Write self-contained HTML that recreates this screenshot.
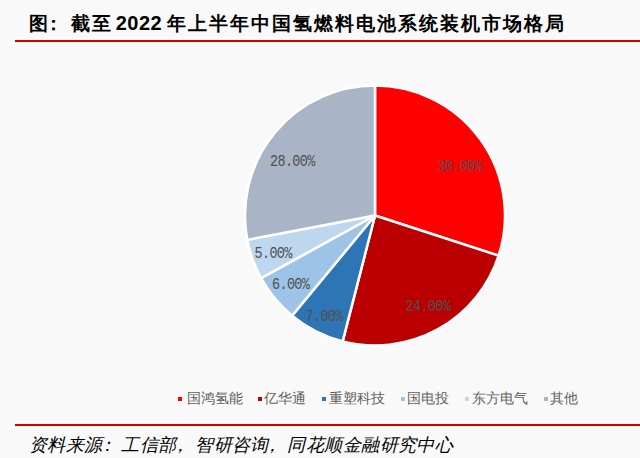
<!DOCTYPE html>
<html><head><meta charset="utf-8">
<style>
html,body{margin:0;padding:0;}
body{width:640px;height:458px;background:#f9f9f9;position:relative;overflow:hidden;font-family:"Liberation Sans",sans-serif;}
.title{position:absolute;left:29px;top:9px;font-family:"Liberation Serif",serif;font-size:19px;font-weight:bold;letter-spacing:2px;color:#000;white-space:nowrap;line-height:28px;}
.rule{position:absolute;left:15px;right:0;height:2px;background:#d40000;}
.legend{position:absolute;top:0;left:0;font-size:14px;color:#606060;white-space:nowrap;line-height:18px;}
.legend span{position:absolute;top:389px;}
.legend i{position:absolute;width:4px;height:4px;top:397px;}
.src{position:absolute;font-family:"Liberation Serif",serif;left:29px;top:433px;font-size:18px;font-style:italic;letter-spacing:0.45px;color:#000;white-space:nowrap;line-height:24px;}
svg{position:absolute;left:0;top:0;}
</style></head>
<body>
<div class="title">图<span style="position:relative;left:-6px">：</span>截至<span style="letter-spacing:-2px"> </span><span style="letter-spacing:0.5px;font-size:20px;font-family:'Liberation Sans',sans-serif">2022</span><span style="letter-spacing:0px"> </span>年上半年中国氢燃料电池系统装机市场格局</div>
<div class="rule" style="top:40px"></div>
<svg width="640" height="458" viewBox="0 0 640 458">
<path d="M375,215.5 L375.00,85.50 A130,130 0 0 1 498.64,255.67 Z" fill="#ff0000" stroke="#fff" stroke-width="2.5" stroke-linejoin="round"/>
<path d="M375,215.5 L498.64,255.67 A130,130 0 0 1 342.67,341.42 Z" fill="#ba0000" stroke="#fff" stroke-width="2.5" stroke-linejoin="round"/>
<path d="M375,215.5 L342.67,341.42 A130,130 0 0 1 292.13,315.67 Z" fill="#2e75b6" stroke="#fff" stroke-width="2.5" stroke-linejoin="round"/>
<path d="M375,215.5 L292.13,315.67 A130,130 0 0 1 261.08,278.13 Z" fill="#9dc3e6" stroke="#fff" stroke-width="2.5" stroke-linejoin="round"/>
<path d="M375,215.5 L261.08,278.13 A130,130 0 0 1 247.30,239.86 Z" fill="#bdd7ee" stroke="#fff" stroke-width="2.5" stroke-linejoin="round"/>
<path d="M375,215.5 L247.30,239.86 A130,130 0 0 1 375.00,85.50 Z" fill="#a9b5c6" stroke="#fff" stroke-width="2.5" stroke-linejoin="round"/>
<g font-family="Liberation Mono" font-size="13.5" fill="#505050">
<text transform="translate(270,166) scale(1,1.17)" x="0.00 7.45 14.90 22.35 29.80 37.25" y="0">28.00%</text>
<text transform="translate(437.5,170.5) scale(1,1.17)" x="0.00 7.45 14.90 22.35 29.80 37.25" y="0">30.00%</text>
<text transform="translate(405.5,310.5) scale(1,1.17)" x="0.00 7.45 14.90 22.35 29.80 37.25" y="0">24.00%</text>
<text transform="translate(254.5,257.5) scale(1,1.17)" x="0.00 7.45 14.90 22.35 29.80" y="0">5.00%</text>
<text transform="translate(272,288.5) scale(1,1.17)" x="0.00 7.45 14.90 22.35 29.80" y="0">6.00%</text>
<text transform="translate(305.5,320.5) scale(1,1.17)" x="0.00 7.45 14.90 22.35 29.80" y="0">7.00%</text>
</g>
</svg>
<div class="legend">
<i style="left:178px;background:#ff0000"></i><span style="left:187px">国鸿氢能</span>
<i style="left:258px;background:#c00000"></i><span style="left:264px">亿华通</span>
<i style="left:322px;background:#2e75b6"></i><span style="left:329px">重塑科技</span>
<i style="left:401px;background:#9dc3e6"></i><span style="left:407px">国电投</span>
<i style="left:465px;background:#bdd7ee"></i><span style="left:472px">东方电气</span>
<i style="left:544px;background:#a9b5c6"></i><span style="left:550px">其他</span>
</div>
<div class="rule" style="top:424px"></div>
<div class="src">资料来源<span style="position:relative;left:-5px">：</span>工信部<span style="position:relative;left:-6px">，</span>智研咨询<span style="position:relative;left:-6px">，</span>同花顺金融研究中心</div>
</body></html>
